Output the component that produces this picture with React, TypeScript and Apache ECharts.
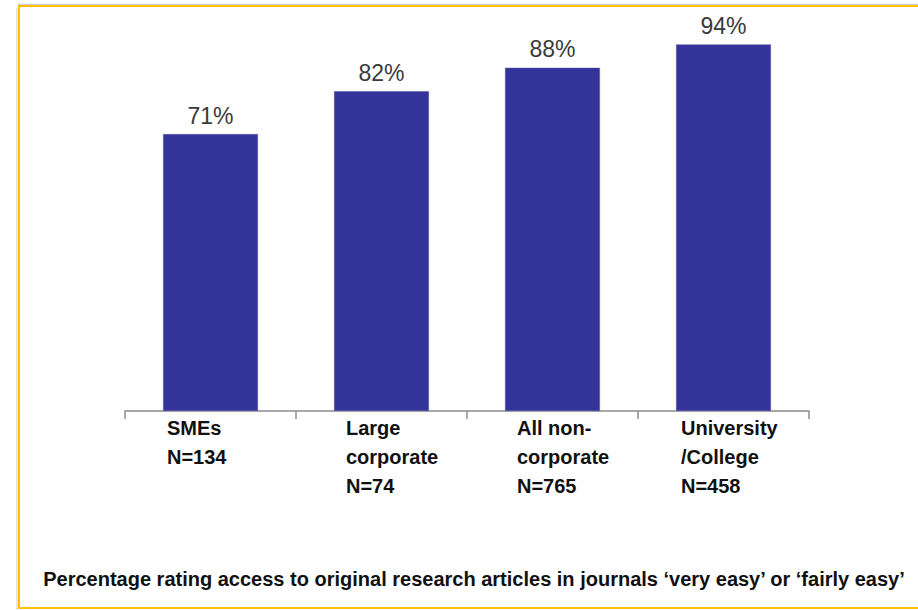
import React, { useEffect, useRef } from "react";
import * as echarts from "echarts";

const categories = [
  "SMEs\nN=134",
  "Large\ncorporate\nN=74",
  "All non-\ncorporate\nN=765",
  "University\n/College\nN=458",
];
const values = [71, 82, 88, 94];
const titleText =
  "Percentage rating access to original research articles in journals \u2018very easy\u2019 or \u2018fairly easy\u2019";

const labelBoxWidths = [87, 71, 71, 85];

export default function App() {
  const ref = useRef<HTMLDivElement>(null);
  useEffect(() => {
    document.body.style.margin = "0";
    const chart = echarts.init(ref.current!, null, { renderer: "svg" });
    const rich: Record<string, any> = {};
    labelBoxWidths.forEach((w, i) => {
      rich["c" + i] = {
        width: w,
        align: "left",
        fontSize: 20,
        fontWeight: "bold",
        lineHeight: 29,
        color: "#111",
        fontFamily: "Liberation Sans, Arial, sans-serif",
      };
    });
    chart.setOption({
      animation: false,
      backgroundColor: "#ffffff",
      grid: { left: 125, right: 109, top: 21, bottom: 199 },
      xAxis: {
        type: "category",
        data: categories,
        axisLine: { lineStyle: { color: "#8c8c8c", width: 1.5 } },
        axisTick: { show: true, length: 8, lineStyle: { color: "#8c8c8c", width: 1.5 } },
        axisLabel: {
          interval: 0,
          margin: 2,
          formatter: (v: string, i: number) => `{c${i}|${v}}`,
          rich,
        },
      },
      yAxis: {
        type: "value",
        min: 0,
        max: 100,
        show: false,
        splitLine: { show: false },
      },
      series: [
        {
          type: "bar",
          data: values,
          barWidth: "55.5%",
          itemStyle: { color: "#333399", borderColor: "#5a5aa8", borderWidth: 0.5 },
          label: {
            show: true,
            position: "top",
            distance: 7,
            formatter: "{c}%",
            fontSize: 23,
            color: "#3a3a3a",
            fontFamily: "Liberation Sans, Arial, sans-serif",
          },
        },
      ],
      graphic: [
        {
          type: "line",
          shape: { x1: 18, y1: 4.5, x2: 918, y2: 4.5 },
          style: { stroke: "#cfcfcf", lineWidth: 1.5 },
          silent: true,
        },
        {
          type: "rect",
          shape: { x: 16, y: 8, width: 2, height: 602 },
          style: { fill: "#e6e6e6" },
          silent: true,
        },
        {
          type: "rect",
          shape: { x: 19, y: 6, width: 1000, height: 602 },
          style: { fill: "none", stroke: "#FFC000", lineWidth: 2 },
          silent: true,
        },
        {
          type: "text",
          x: 474,
          y: 579,
          style: {
            text: titleText,
            fontSize: 20,
            fontWeight: "bold",
            fill: "#111",
            align: "center",
            verticalAlign: "middle",
            fontFamily: "Liberation Sans, Arial, sans-serif",
          },
        },
      ],
    });
    return () => chart.dispose();
  }, []);
  return <div ref={ref} style={{ width: 918, height: 610 }} />;
}
